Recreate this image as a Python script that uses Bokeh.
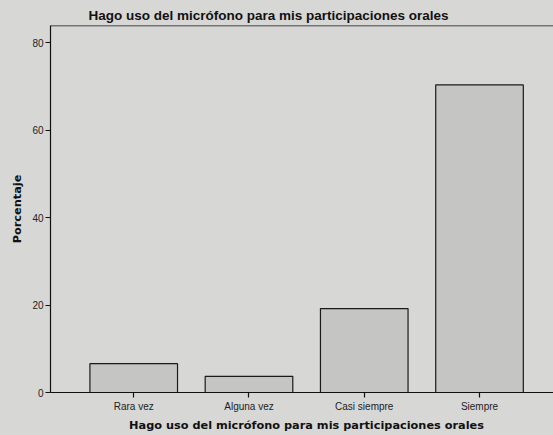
from bokeh.plotting import figure
from bokeh.models import FixedTicker, ColumnDataSource, Range1d, Span
from bokeh.embed import file_html
from bokeh.resources import INLINE

categories = ["Rara vez", "Alguna vez", "Casi siempre", "Siempre"]
porcentaje = [6.6, 3.7, 19.2, 70.4]
y_ticks = [0, 20, 40, 60, 80]
y_max = 84

positions = list(range(1, len(categories) + 1))
src = ColumnDataSource(dict(x=positions, top=porcentaje, cat=categories))

BG = "#d7d7d5"
# the reference's plot box runs past the right edge of the picture, so the
# figure is slightly wider than the window and the overflow is hidden
p = figure(width=562, height=435, output_backend="svg", toolbar_location=None,
           x_range=Range1d(0.278, 4.72), y_range=Range1d(0, y_max),
           min_border_left=50, min_border_right=0, min_border_top=25, min_border_bottom=43,
           background_fill_color=BG, border_fill_color=BG,
           title="Hago uso del micrófono para mis participaciones orales")

p.vbar(x="x", top="top", width=0.76, bottom=0, source=src,
       fill_color="#c5c5c3", line_color="#1a1a1a", line_width=1.2)

p.add_layout(Span(location=y_max, dimension="width", line_color="#111111", line_width=1.5))

p.title.text_font = "Liberation Sans"
p.title.text_font_size = "13.5px"
p.title.text_font_style = "bold"
p.title.text_color = "#111111"
p.title.align = "left"
p.title.offset = 38
p.title.standoff = 6

p.xgrid.visible = False
p.ygrid.visible = False
p.outline_line_color = None

p.xaxis.ticker = FixedTicker(ticks=positions)
p.xaxis.major_label_overrides = {i: c for i, c in zip(positions, categories)}
p.yaxis.ticker = FixedTicker(ticks=y_ticks)

for ax in (p.xaxis[0], p.yaxis[0]):
    ax.axis_line_color = "#111111"
    ax.axis_line_width = 1.2
    ax.major_tick_line_color = "#111111"
    ax.major_tick_line_width = 1.2
    ax.major_tick_out = 5
    ax.major_tick_in = 0
    ax.minor_tick_line_color = None
    ax.major_label_text_font = "Liberation Sans"
    ax.major_label_text_font_size = "10px"
    ax.major_label_text_color = "#222222"
    ax.axis_label_text_font = "DejaVu Sans"
    ax.axis_label_text_font_size = "11.3px"
    ax.axis_label_text_font_style = "bold"
    ax.axis_label_text_color = "#111111"

p.xaxis.axis_label = "Hago uso del micrófono para mis participaciones orales"
p.yaxis.axis_label = "Porcentaje"
p.xaxis.major_label_standoff = 3
p.xaxis.axis_label_standoff = 4
p.yaxis.major_label_standoff = 2
p.yaxis.axis_label_standoff = 5

html = file_html(p, INLINE)
html = html.replace("</head>", "<style>html,body{background:%s;overflow:hidden;}</style></head>" % BG)
open("out.html", "w").write(html)
